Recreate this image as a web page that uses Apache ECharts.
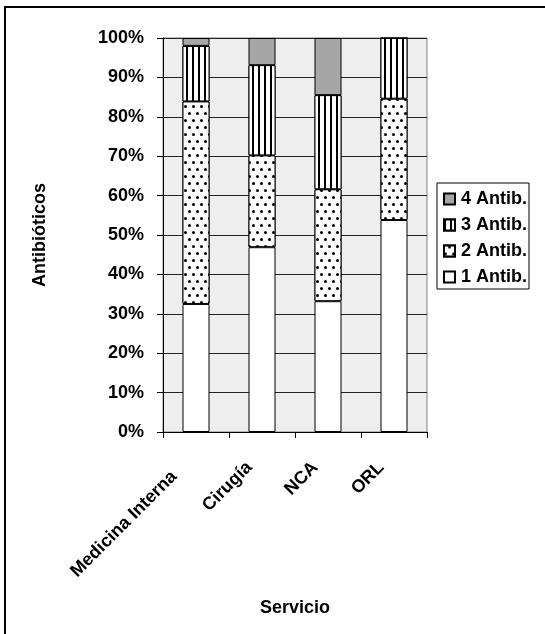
<!DOCTYPE html>
<html>
<head>
<meta charset="utf-8">
<script src="https://cdn.jsdelivr.net/npm/echarts@6/dist/echarts.min.js"></script>
<style>
  html, body { margin: 0; padding: 0; background: #fff; }
  #chart { width: 545px; height: 634px; }
</style>
</head>
<body>
<div id="chart"></div>
<script>
// Services (categories) and share of patients by number of antibiotics (%)
const servicios = ['Medicina Interna', 'Cirugía', 'NCA', 'ORL'];
const antib1 = [32.5, 46.9, 33.2, 53.8];
const antib2 = [51.4, 23.3, 28.4, 30.8];
const antib3 = [14.1, 22.9, 23.9, 15.4];
const antib4 = [2.0, 6.9, 14.5, 0];
const yTicks = [0, 10, 20, 30, 40, 50, 60, 70, 80, 90, 100];

const FONT = '"Liberation Sans", Arial, sans-serif';
const FS = 18;

// Dotted fill (staggered black dots on white)
const dotDecal = {
  symbol: 'circle',
  symbolSize: 1,
  color: '#000',
  backgroundColor: '#fff',
  dashArrayX: [[3, 5], [0, 4, 3, 1]],
  dashArrayY: [3, 4],
  rotation: 0
};
// Vertical stripes fill
const stripeDecal = {
  symbol: 'rect',
  symbolSize: 1,
  symbolKeepAspect: false,
  color: '#000',
  backgroundColor: '#fff',
  dashArrayX: [1.5, 3.5],
  dashArrayY: [10, 0],
  rotation: 0
};

function barSeries(name, data, itemStyle) {
  return {
    name: name,
    type: 'bar',
    stack: 'total',
    barWidth: 27,
    data: data,
    itemStyle: Object.assign({ borderColor: '#000', borderWidth: 1 }, itemStyle)
  };
}

const boldText = { fontFamily: FONT, fontWeight: 'bold', fontSize: FS, color: '#000' };

// the long first label sits a little further down-left of its tick
const categoryData = servicios.map((s, i) => i === 0
  ? { value: s, textStyle: { padding: [0, 31, 0, 0] } }
  : s);

const chart = echarts.init(document.getElementById('chart'), null, { renderer: 'canvas' });
chart.setOption({
  animation: false,
  backgroundColor: '#fff',
  textStyle: { fontFamily: FONT },
  graphic: [{
    type: 'rect',
    shape: { x: 5, y: 7, width: 600, height: 700 },
    style: { fill: 'none', stroke: '#000', lineWidth: 2 },
    silent: true
  }],
  grid: {
    left: 163, right: 118, top: 38, bottom: 202,
    show: true, backgroundColor: '#eeeeee', borderColor: '#808080', borderWidth: 1
  },
  legend: {
    data: ['4 Antib.', '3 Antib.', '2 Antib.', '1 Antib.'],
    orient: 'vertical',
    left: 437, top: 183,
    padding: [7, 2, 3, 6],
    itemGap: 8,
    itemWidth: 11, itemHeight: 11,
    icon: 'rect',
    borderColor: '#000', borderWidth: 1, borderRadius: 0,
    backgroundColor: '#fff',
    textStyle: Object.assign({ padding: [0, 0, 0, 1] }, boldText)
  },
  xAxis: {
    type: 'category',
    data: categoryData,
    name: 'Servicio',
    nameLocation: 'middle',
    nameGap: 167,
    nameTextStyle: boldText,
    axisLine: { lineStyle: { color: '#000', width: 1 } },
    axisTick: { show: true, length: 6, lineStyle: { color: '#000' } },
    axisLabel: Object.assign({
      rotate: 45, margin: 20, interval: 0, padding: [0, 18, 0, 0]
    }, boldText)
  },
  yAxis: {
    type: 'value',
    min: yTicks[0], max: yTicks[yTicks.length - 1], interval: 10,
    name: 'Antibióticos',
    nameLocation: 'middle',
    nameRotate: 90,
    nameGap: 114,
    nameTextStyle: boldText,
    axisLine: { show: true, lineStyle: { color: '#000', width: 1 } },
    axisTick: { show: true, length: 6, lineStyle: { color: '#000' } },
    splitLine: { show: true, lineStyle: { color: '#222', width: 1 } },
    axisLabel: Object.assign({ margin: 19, formatter: '{value}%' }, boldText)
  },
  series: [
    barSeries('1 Antib.', antib1, { color: '#fff' }),
    barSeries('2 Antib.', antib2, { color: '#fff', decal: dotDecal }),
    barSeries('3 Antib.', antib3, { color: '#fff', decal: stripeDecal }),
    barSeries('4 Antib.', antib4, { color: '#a6a6a6' })
  ]
});
</script>
</body>
</html>
